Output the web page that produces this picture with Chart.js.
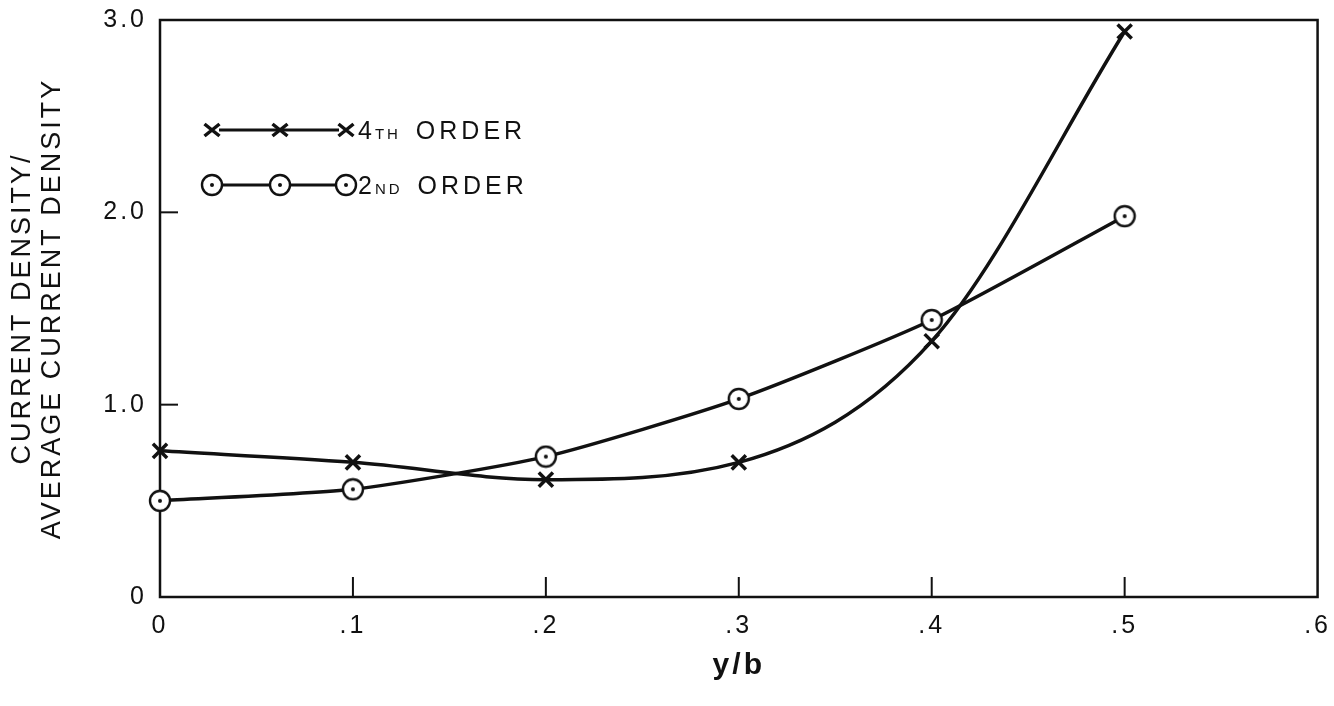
<!DOCTYPE html>
<html>
<head>
<meta charset="utf-8">
<script src="https://cdn.jsdelivr.net/npm/chart.js@4.4.1/dist/chart.umd.min.js"></script>
<style>
html,body{margin:0;padding:0;background:#fff;}
#wrap{width:1334px;height:706px;}
</style>
</head>
<body>
<div id="wrap"><canvas id="chart" width="1334" height="706"></canvas></div>
<script>

/* DONNEES */

const xValues=[0,0.1,0.2,0.3,0.4,0.5];
const fourthOrder=[0.76,0.70,0.61,0.70,1.33,2.94];
const secondOrder=[0.50,0.56,0.73,1.03,1.44,1.98];

const xTickLabels=['0','.1','.2','.3','.4','.5','.6'];
const yTickLabels=['0','1.0','2.0','3.0'];

const legendLabels=[['4','TH',' ORDER'],['2','ND',' ORDER']];
const yTitle=['CURRENT DENSITY/','AVERAGE CURRENT DENSITY'];
const xTitle='y/b';

const INK='#111';
const FONT='"Liberation Sans", Arial, sans-serif';

/* MARQUEUR CERCLE POINTE */

function circleDot(r){
let c=document.createElement('canvas');
let s=Math.ceil(r*2+4);
c.width=s;c.height=s;
let g=c.getContext('2d');
g.beginPath();
g.arc(s/2,s/2,r,0,Math.PI*2);
g.fillStyle='#fff';
g.fill();
g.lineWidth=2.4;
g.strokeStyle=INK;
g.stroke();
g.beginPath();
g.arc(s/2,s/2,2,0,Math.PI*2);
g.fillStyle=INK;
g.fill();
return c;
}

const dotImg=circleDot(10);

/* CADRE + GRADUATIONS */

const framePlugin={
id:'frame',
beforeDraw(chart){
chart.ctx.letterSpacing='3px';
},
beforeDatasetsDraw(chart){
let {ctx,chartArea:a,scales}=chart;
ctx.save();
ctx.letterSpacing='0px';
ctx.strokeStyle=INK;
ctx.lineWidth=2.5;
ctx.strokeRect(a.left,a.top,a.right-a.left,a.bottom-a.top);
ctx.lineWidth=2;
[1,2].forEach(v=>{
let y=scales.y.getPixelForValue(v);
ctx.beginPath();ctx.moveTo(a.left,y);ctx.lineTo(a.left+18,y);ctx.stroke();
});
[0.1,0.2,0.3,0.4,0.5].forEach(v=>{
let x=scales.x.getPixelForValue(v);
ctx.beginPath();ctx.moveTo(x,a.bottom);ctx.lineTo(x,a.bottom-20);ctx.stroke();
});
ctx.restore();
}
};

/* LEGENDE */

function drawCross(ctx,x,y,s){
ctx.beginPath();
ctx.moveTo(x-s,y-s*0.8);ctx.lineTo(x+s,y+s*0.8);
ctx.moveTo(x+s,y-s*0.8);ctx.lineTo(x-s,y+s*0.8);
ctx.stroke();
}

const legendPlugin={
id:'legendBox',
afterDraw(chart){
let {ctx,chartArea:a}=chart;
ctx.save();
ctx.strokeStyle=INK;
ctx.fillStyle=INK;
ctx.letterSpacing='0px';
let xs=[a.left+52,a.left+120,a.left+186];
let rows=[a.top+110,a.top+165];

/* ligne 1 : croix */
ctx.lineWidth=3;
ctx.beginPath();ctx.moveTo(xs[0]+7,rows[0]);ctx.lineTo(xs[2]-7,rows[0]);ctx.stroke();
ctx.lineWidth=3.5;
xs.forEach(x=>drawCross(ctx,x,rows[0],7.5));

/* ligne 2 : cercles */
ctx.lineWidth=3;
ctx.beginPath();ctx.moveTo(xs[0],rows[1]);ctx.lineTo(xs[2],rows[1]);ctx.stroke();
xs.forEach(x=>ctx.drawImage(dotImg,x-dotImg.width/2,rows[1]-dotImg.height/2));

/* textes */
ctx.textBaseline='alphabetic';
legendLabels.forEach((parts,i)=>{
let x=xs[2]+12;
let base=rows[i]+9;
ctx.letterSpacing='2px';
ctx.font='25px '+FONT;
ctx.fillText(parts[0],x,base);
x+=ctx.measureText(parts[0]).width+1;
ctx.font='15px '+FONT;
ctx.letterSpacing='3px';
ctx.fillText(parts[1],x,base);
x+=ctx.measureText(parts[1]).width+4;
ctx.font='25px '+FONT;
ctx.letterSpacing='4px';
ctx.fillText(parts[2],x,base);
});
ctx.restore();
}
};

/* GRAPH */

new Chart(document.getElementById('chart'),{

type:'line',

data:{
datasets:[
{
label:'4th order',
data:xValues.map((x,i)=>({x:x,y:fourthOrder[i]})),
borderColor:INK,
borderWidth:3.5,
cubicInterpolationMode:'monotone',
pointStyle:'crossRot',
pointRadius:10,
pointBorderWidth:3.5,
pointBorderColor:INK,
clip:false,
fill:false
},
{
label:'2nd order',
data:xValues.map((x,i)=>({x:x,y:secondOrder[i]})),
borderColor:INK,
borderWidth:3.5,
tension:0.2,
pointStyle:dotImg,
pointRadius:10,
clip:false,
fill:false
}
]
},

options:{
responsive:false,
animation:false,
devicePixelRatio:1,
layout:{padding:{top:7,right:16,left:0,bottom:0}},

plugins:{
legend:{display:false},
tooltip:{enabled:false}
},

scales:{
x:{
type:'linear',
min:0,max:0.6,
afterFit(s){s.height=109;},
grid:{display:false},
border:{display:false},
ticks:{
stepSize:0.1,
autoSkip:false,
maxRotation:0,
padding:6,
color:INK,
font:{family:FONT,size:25},
callback:(v,i)=>xTickLabels[i]
},
title:{
display:true,
text:xTitle,
color:INK,
font:{family:FONT,size:30,weight:'bold'},
padding:{top:0,bottom:22}
}
},
y:{
min:0,max:3,
afterFit(s){s.width=160;},
grid:{display:false},
border:{display:false},
ticks:{
stepSize:1,
padding:5,
color:INK,
font:{family:FONT,size:25},
callback:(v,i)=>yTickLabels[i]
},
title:{
display:true,
text:yTitle,
color:INK,
font:{family:FONT,size:27,lineHeight:1.1},
padding:{top:8,bottom:0}
}
}
}

},

plugins:[framePlugin,legendPlugin]

});

</script>
</body>
</html>
